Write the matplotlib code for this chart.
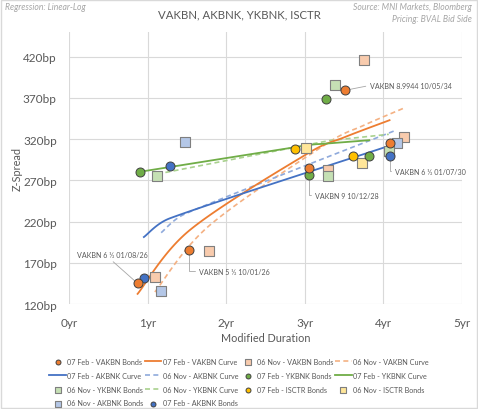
import numpy as np
import matplotlib.pyplot as plt
from matplotlib.patches import Rectangle

plt.rcParams['font.family'] = ['Lato', 'DejaVu Sans']

# Modified duration (yrs) / Z-spread (bp) per bank and pricing date
vak_feb_x = [0.87, 1.53, 3.05, 3.51, 4.08]
vak_feb_y = [145, 186, 285, 379, 315]
vak_nov_x = [1.09, 1.78, 3.30, 3.75, 4.26]
vak_nov_y = [153, 184, 283, 416, 323]
akb_feb_x = [0.95, 1.28, 4.08]
akb_feb_y = [151, 287, 299]
akb_nov_x = [1.17, 1.48, 4.17]
akb_nov_y = [136, 316, 315]
ykb_feb_x = [0.90, 3.05, 3.27, 3.82]
ykb_feb_y = [280, 277, 369, 300]
ykb_nov_x = [1.12, 3.30, 3.38, 4.07]
ykb_nov_y = [275, 275, 385, 305]
isc_feb_x = [2.88, 3.61]
isc_feb_y = [308, 299]
isc_nov_x = [3.01, 3.73]
isc_nov_y = [309, 291]

x_ticks = [0, 1, 2, 3, 4, 5]
x_labels = ["0yr", "1yr", "2yr", "3yr", "4yr", "5yr"]
y_ticks = [120, 170, 220, 270, 320, 370, 420]
y_labels = ["120bp", "170bp", "220bp", "270bp", "320bp", "370bp", "420bp"]

# labelled VAKBN bonds (same order as vak_feb)
bond_names = ["VAKBN 6 ½ 01/08/26", "VAKBN 5 ½ 10/01/26", "VAKBN 9 10/12/28",
              "VAKBN 8.9944 10/05/34", "VAKBN 6 ½ 01/07/30"]

ORANGE, BLUE, GREEN, YELLOW = "#ED7D31", "#4472C4", "#70AD47", "#FFC000"
L_ORANGE, L_BLUE, L_GREEN, L_YELLOW = "#F8CBAD", "#B4C7E7", "#C5E0B4", "#FFE699"
D_ORANGE, D_BLUE, D_GREEN = "#F4B183", "#8FAADC", "#A9D18E"
TXT = "#595959"


def loglin_curve(x, y, n=30):
    # regression: linear-log, y = a + b*ln(x); fitted values at each bond,
    # joined with a smoothed bezier line like excel does
    b, a = np.polyfit(np.log(x), y, 1)
    px = np.sort(np.asarray(x, float))
    pts = np.column_stack([px, a + b * np.log(px)])
    ext = np.vstack([pts[0], pts, pts[-1]])
    t = np.linspace(0, 1, n)[:, None]
    out = []
    for i in range(1, len(ext) - 2):
        p0, p1, p2, p3 = ext[i - 1], ext[i], ext[i + 1], ext[i + 2]
        dx = p2[0] - p1[0]
        m1 = (p2 - p0) / 6
        m2 = (p3 - p1) / 6
        # keep control points inside the segment so short segments don't loop
        if m1[0] > 0.5 * dx:
            m1 = m1 * 0.5 * dx / m1[0]
        if m2[0] > 0.5 * dx:
            m2 = m2 * 0.5 * dx / m2[0]
        c1, c2 = p1 + m1, p2 - m2
        seg = ((1 - t) ** 3 * p1 + 3 * (1 - t) ** 2 * t * c1
               + 3 * (1 - t) * t ** 2 * c2 + t ** 3 * p2)
        out.append(seg)
    out = np.vstack(out)
    return out[:, 0], out[:, 1]


fig = plt.figure(figsize=(4.78, 4.10), dpi=100)
ax = fig.add_axes([0.145, 0.256, 0.821, 0.664])

h = {}
dash = (0, (3, 2))
xs, ys = loglin_curve(vak_feb_x, vak_feb_y)
h["vfc"], = ax.plot(xs, ys, color=ORANGE, lw=1.3, zorder=3)
xs, ys = loglin_curve(vak_nov_x, vak_nov_y)
h["vnc"], = ax.plot(xs, ys, color=D_ORANGE, lw=1.2, ls=dash, zorder=2)
xs, ys = loglin_curve(akb_feb_x, akb_feb_y)
h["afc"], = ax.plot(xs, ys, color=BLUE, lw=1.3, zorder=3)
xs, ys = loglin_curve(akb_nov_x, akb_nov_y)
h["anc"], = ax.plot(xs, ys, color=D_BLUE, lw=1.2, ls=dash, zorder=2)
xs, ys = loglin_curve(ykb_feb_x, ykb_feb_y)
h["yfc"], = ax.plot(xs, ys, color=GREEN, lw=1.3, zorder=3)
xs, ys = loglin_curve(ykb_nov_x, ykb_nov_y)
h["ync"], = ax.plot(xs, ys, color=D_GREEN, lw=1.2, ls=dash, zorder=2)

circ = dict(marker="o", s=42, edgecolors="#404040", linewidths=0.7, zorder=6)
sq = dict(marker="s", s=46, edgecolors="#7F7F7F", linewidths=0.8, zorder=5)
h["vnb"] = ax.scatter(vak_nov_x, vak_nov_y, color=L_ORANGE, **sq)
h["anb"] = ax.scatter(akb_nov_x, akb_nov_y, color=L_BLUE, **sq)
h["ynb"] = ax.scatter(ykb_nov_x, ykb_nov_y, color=L_GREEN, **sq)
h["inb"] = ax.scatter(isc_nov_x, isc_nov_y, color=L_YELLOW, **sq)
h["ifb"] = ax.scatter(isc_feb_x, isc_feb_y, color=YELLOW, **circ)
h["yfb"] = ax.scatter(ykb_feb_x, ykb_feb_y, color=GREEN, **circ)
h["afb"] = ax.scatter(akb_feb_x, akb_feb_y, color=BLUE, **circ)
h["vfb"] = ax.scatter(vak_feb_x, vak_feb_y, color=ORANGE, **circ)

# bond labels
ann = dict(fontsize=5.1, color=TXT, va="center", ha="left", zorder=1)
lead = dict(arrowstyle="-", color="#A6A6A6", lw=0.6, shrinkA=1, shrinkB=0)
elbow = "angle,angleA=0,angleB=90,rad=0"
ax.annotate(bond_names[0], (vak_feb_x[0], vak_feb_y[0]), xytext=(0.10, 180),
            arrowprops=dict(lead, relpos=(0.45, 0)), **ann)
ax.annotate(bond_names[1], (vak_feb_x[1], vak_feb_y[1]), xytext=(1.65, 160),
            arrowprops=dict(lead, relpos=(0, 0.5), connectionstyle=elbow), **ann)
ax.annotate(bond_names[2], (vak_feb_x[2], vak_feb_y[2]), xytext=(3.13, 252),
            arrowprops=dict(lead, relpos=(0, 0.5), connectionstyle=elbow), **ann)
ax.annotate(bond_names[3], (vak_feb_x[3], vak_feb_y[3]), xytext=(3.83, 385),
            arrowprops=dict(lead, relpos=(0, 0.5)), **ann)
ax.annotate(bond_names[4], (vak_feb_x[4], vak_feb_y[4]), xytext=(4.15, 281),
            arrowprops=dict(lead, relpos=(0, 0.5), connectionstyle=elbow), **ann)

ax.set_xlim(0, 5)
ax.set_ylim(120, 450)
ax.set_xticks(x_ticks, x_labels)
ax.set_yticks(y_ticks, y_labels)
ax.tick_params(length=0, labelsize=8.5, labelcolor=TXT)
ax.tick_params(axis="y", pad=9)
ax.tick_params(axis="x", pad=9)
ax.grid(True, color="#D9D9D9", lw=0.8)
ax.set_axisbelow(True)
for s in ax.spines.values():
    s.set_visible(False)
ax.set_xlabel("Modified Duration", fontsize=7.8, color=TXT, labelpad=3)
ax.set_ylabel("Z-Spread", fontsize=7.8, color=TXT, labelpad=0)

fig.text(0.5, 1 - 15 / 410, "VAKBN, AKBNK, YKBNK, ISCTR", ha="center", va="center",
         fontsize=8.2, color=TXT)
fig.text(5 / 478, 1 - 8 / 410, "Regression: Linear-Log", ha="left", va="center",
         fontsize=6.2, color="#A6A6A6", style="italic")
fig.text(472 / 478, 1 - 8 / 410, "Source: MNI Markets, Bloomberg", ha="right",
         va="center", fontsize=6.2, color="#A6A6A6", style="italic")
fig.text(472 / 478, 1 - 20 / 410, "Pricing: BVAL Bid Side", ha="right",
         va="center", fontsize=6.2, color="#A6A6A6", style="italic")

order = ["vfb", "afc", "ynb", "anb",
         "vfc", "anc", "ync", "afb",
         "vnb", "yfb", "ifb",
         "vnc", "yfc", "inb"]
names = {
    "vfb": "07 Feb - VAKBN Bonds", "vfc": "07 Feb - VAKBN Curve",
    "vnb": "06 Nov - VAKBN Bonds", "vnc": "06 Nov - VAKBN Curve",
    "afc": "07 Feb - AKBNK Curve", "anc": "06 Nov - AKBNK Curve",
    "yfb": "07 Feb - YKBNK Bonds", "yfc": "07 Feb - YKBNK Curve",
    "ynb": "06 Nov - YKBNK Bonds", "ync": "06 Nov - YKBNK Curve",
    "ifb": "07 Feb - ISCTR Bonds", "inb": "06 Nov - ISCTR Bonds",
    "anb": "06 Nov - AKBNK Bonds", "afb": "07 Feb - AKBNK Bonds",
}
leg = fig.legend([h[k] for k in order], [names[k] for k in order], ncol=4,
                 loc="upper center", bbox_to_anchor=(0.5, 1 - 356 / 410),
                 frameon=False, fontsize=5.2, labelcolor=TXT, markerscale=0.55,
                 handlelength=2.3, handletextpad=0.2, columnspacing=0.15,
                 labelspacing=0.95, borderaxespad=0)

fig.patches.append(Rectangle((0.002, 0.002), 0.996, 0.996, transform=fig.transFigure,
                             fill=False, edgecolor="#D9D9D9", lw=1))

fig.savefig("out.png", dpi=100)
